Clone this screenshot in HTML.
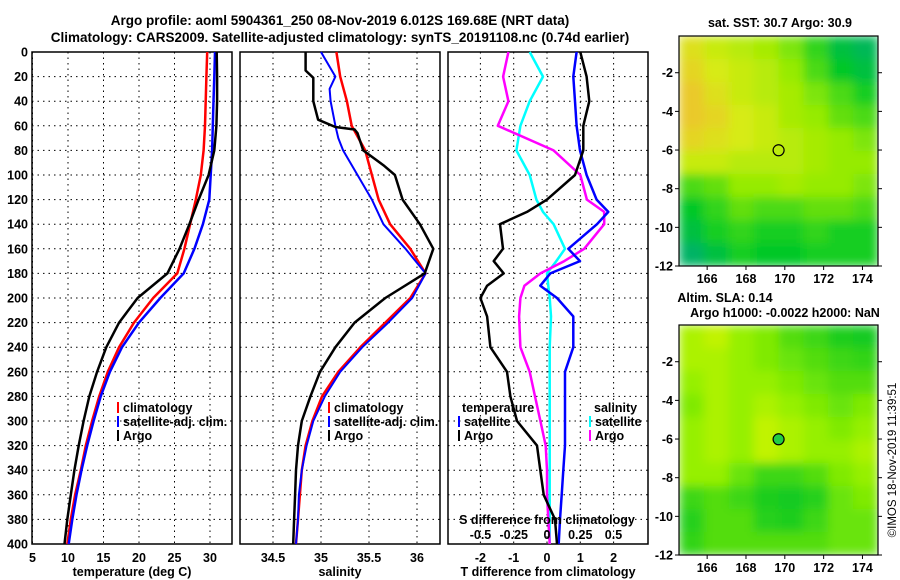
<!DOCTYPE html>
<html><head><meta charset="utf-8"><title>Argo profile</title>
<style>
html,body{margin:0;padding:0;background:#fff;}
svg{display:block;font-family:"Liberation Sans",sans-serif;font-weight:bold;}
</style></head>
<body>
<svg id="fig" width="900" height="580" viewBox="0 0 900 580" xmlns="http://www.w3.org/2000/svg">
<defs>
<filter id="soft" x="0" y="0" width="1" height="1"><feGaussianBlur stdDeviation="5" edgeMode="duplicate"/></filter>
<filter id="soft2" x="0" y="0" width="1" height="1"><feGaussianBlur stdDeviation="2" edgeMode="duplicate"/></filter>
<clipPath id="c1"><rect x="679" y="36" width="199" height="230"/></clipPath>
<clipPath id="c2"><rect x="679" y="325" width="199" height="230"/></clipPath>
</defs>
<text x="340" y="25" font-size="13.5" text-anchor="middle">Argo profile: aoml 5904361_250 08-Nov-2019 6.012S 169.68E (NRT data)</text>
<text x="340" y="42" font-size="13.5" text-anchor="middle">Climatology: CARS2009. Satellite-adjusted climatology: synTS_20191108.nc (0.74d earlier)</text>
<text transform="translate(896,460) rotate(-90)" font-size="11.5" font-weight="normal" text-anchor="middle">©IMOS 18-Nov-2019 11:39:51</text>
</svg>
<script>
// ---------- data ----------
const pressureTicks = [0,20,40,60,80,100,120,140,160,180,200,220,240,260,280,300,320,340,360,380,400];
const tempTicks = [5,10,15,20,25,30];
const salTicks = [34.5,35,35.5,36];
const tdiffTicks = [-2,-1,0,1,2];
const sdiffTicks = [-0.5,-0.25,0,0.25,0.5];
const sdiffTickLabels = ["-0.5","-0.25","0","0.25","0.5"];

const pT = [0,20,40,60,80,100,120,140,160,180,200,220,240,260,280,300,320,340,360,380,400];
const tempClim = [29.6,29.5,29.4,29.3,29.1,28.7,28.0,27.2,26.4,25.4,22.0,19.3,17.2,15.6,14.4,13.4,12.5,11.8,11.0,10.4,9.9];
const tempSat  = [30.7,30.6,30.5,30.4,30.3,30.1,29.9,29.0,27.8,26.3,23.0,20.0,17.6,15.9,14.6,13.6,12.7,11.9,11.2,10.6,10.1];
const tempArgo = [30.95,31.0,31.0,30.9,30.6,29.8,28.4,27.1,25.7,24.0,19.8,17.2,15.4,14.1,13.0,12.2,11.5,10.9,10.4,9.9,9.5];

const pSalArgo = [0,15,21,40,55,61,63,66,80,92,100,120,140,160,180,200,220,240,260,280,300,320,340,360,380,400];
const salArgo = [34.84,34.84,34.92,34.92,34.97,35.15,35.35,35.38,35.44,35.65,35.77,35.85,36.03,36.17,36.08,35.67,35.35,35.15,34.99,34.89,34.80,34.76,34.74,34.73,34.72,34.71];
const salClim = [35.16,35.2,35.27,35.32,35.46,35.53,35.6,35.72,35.93,36.09,35.93,35.67,35.41,35.18,35.01,34.91,34.84,34.80,34.78,34.76,34.74];
const pSalSat = [0,20,30,40,60,70,80,100,120,140,160,180,200,220,240,260,280,300,320,340,360,380,400];
const salSat = [35.0,35.15,35.09,35.1,35.15,35.18,35.23,35.38,35.53,35.65,35.88,36.09,35.95,35.7,35.43,35.2,35.04,34.92,34.85,34.8,34.77,34.76,34.74];

const pDiff = [0,20,40,60,80,100,120,130,140,160,170,180,190,200,215,240,260,280,300,320,340,360,380,400];
const tdiffSat  = [0.89,0.79,0.84,0.89,0.99,1.19,1.49,1.84,1.5,0.64,0.99,0.1,-0.2,0.3,0.79,0.79,0.54,0.54,0.54,0.54,0.49,0.44,0.39,0.35];
const tdiffArgo = [1.0,1.19,1.27,1.09,1.09,0.84,0.0,-0.6,-1.41,-1.32,-1.6,-1.3,-1.8,-2.0,-1.8,-1.7,-1.2,-1.1,-0.9,-0.3,-0.2,-0.1,0.24,0.3];
const sdiffSat  = [-0.13,-0.03,-0.13,-0.2,-0.23,-0.13,-0.08,-0.03,0.05,0.135,0.07,0.0,0.01,0.02,0.03,0.02,0.02,0.02,0.02,0.02,0.02,0.02,0.02,0.02];
const sdiffArgo = [-0.29,-0.33,-0.29,-0.37,0.05,0.25,0.3,0.43,0.43,0.28,0.13,-0.05,-0.17,-0.2,-0.21,-0.2,-0.13,-0.09,-0.05,-0.01,0.0,0.0,0.01,0.02];

const lonTicks = [166,168,170,172,174];
const latTicks = [-2,-4,-6,-8,-10,-12];
const argoLon = 169.68, argoLat = -6.012;
// 0 = green, 1 = warm yellow/orange
const sstGrid = [
 [.7,.6,.55,.5,.4,.25,.1,.05],
 [.75,.65,.6,.55,.45,.3,.15,.1],
 [.8,.7,.6,.55,.5,.4,.3,.2],
 [.8,.75,.65,.6,.5,.45,.35,.3],
 [.75,.7,.65,.6,.55,.5,.45,.4],
 [.6,.6,.55,.55,.55,.5,.45,.45],
 [.3,.35,.45,.45,.5,.45,.45,.4],
 [.15,.25,.35,.3,.3,.35,.35,.3],
 [.1,.2,.25,.2,.2,.25,.2,.2],
 [.02,.1,.2,.15,.15,.2,.2,.2]];
const slaGrid = [
 [.55,.6,.5,.45,.35,.3,.15,.1],
 [.55,.55,.5,.45,.4,.35,.3,.25],
 [.5,.55,.5,.5,.45,.4,.35,.35],
 [.45,.55,.5,.55,.5,.45,.4,.45],
 [.5,.55,.5,.6,.55,.5,.45,.5],
 [.5,.55,.5,.6,.55,.5,.5,.55],
 [.5,.5,.4,.3,.3,.35,.45,.5],
 [.3,.35,.3,.15,.1,.2,.4,.45],
 [.2,.35,.35,.2,.15,.3,.4,.4],
 [.25,.35,.35,.35,.35,.35,.4,.4]];

// ---------- drawing ----------
const NS = "http://www.w3.org/2000/svg";
const svg = document.getElementById("fig");
function mk(tag, attrs, parent){
  const e = document.createElementNS(NS, tag);
  for (const k in attrs) e.setAttribute(k, attrs[k]);
  (parent||svg).appendChild(e);
  return e;
}
const Y0 = 52, Y1 = 544;
const yP = p => Y0 + (p/400)*(Y1-Y0);

function panel(name, x0, x1, xs, xticks, xlabels, xtitle){
  const g = mk("g", {});
  
  
  xticks.forEach(t => {
    const gl = mk("line", {x1:xs(t), x2:xs(t), y1:Y0, y2:Y1, stroke:"#000", "stroke-width":1, "stroke-dasharray":"1.5,4"}, g);
    
    
  });
  pressureTicks.forEach(p => {
    const gl = mk("line", {x1:x0, x2:x1, y1:yP(p), y2:yP(p), stroke:"#000", "stroke-width":1, "stroke-dasharray":"1.5,4"}, g);
    
    
  });
  const fr = mk("rect", {x:x0, y:Y0, width:x1-x0, height:Y1-Y0, fill:"none", stroke:"#000", "stroke-width":1.5}, g);
  
  
  xticks.forEach((t,i) => {
    const tl = mk("text", {x:xs(t), y:562, "font-size":12.5, "text-anchor":"middle"}, g);
    tl.textContent = xlabels[i];
    
    
  });
  const xt = mk("text", {x:(x0+x1)/2, y:576, "font-size":12.5, "text-anchor":"middle"}, g);
  xt.textContent = xtitle;
  
  
  return g;
}
function series(g, name, xs, vals, ps, color, w){
  const d = vals.map((v,i)=> (i?"L":"M") + xs(v).toFixed(1) + "," + yP(ps[i]).toFixed(1)).join(" ");
  const l = mk("path", {d:d, fill:"none", stroke:color, "stroke-width":w, "stroke-linejoin":"round"}, g);
  
  
}
function legend(g, x, y, color, label, name){
  const m = mk("line", {x1:x, x2:x, y1:y-10, y2:y+1, stroke:color, "stroke-width":2}, g);
  
  
  const t = mk("text", {x:x+5, y:y, "font-size":12.5}, g);
  t.textContent = label;
  
  
}

// Panel 1: temperature
const xsT = t => 32.5 + (t-5)*7.1;
const g1 = panel("temperature-panel", 32, 232, xsT, tempTicks, tempTicks.map(String), "temperature (deg C)");
pressureTicks.forEach(p => {
  const t = mk("text", {x:28, y:yP(p)+4.5, "font-size":12.5, "text-anchor":"end"}, g1);
  t.textContent = p;
  
  
});
series(g1, "temp-climatology-line", xsT, tempClim, pT, "#ff0000", 2.5);
series(g1, "temp-satellite-line", xsT, tempSat, pT, "#0000ff", 2.5);
series(g1, "temp-argo-line", xsT, tempArgo, pT, "#000000", 2.5);
legend(g1, 118, 412, "#ff0000", "climatology", "legend-climatology");
legend(g1, 118, 426, "#0000ff", "satellite-adj. clim.", "legend-satellite-adj");
legend(g1, 118, 440, "#000000", "Argo", "legend-argo");

// Panel 2: salinity
const xsS = s => 273 + (s-34.5)*96;
const g2 = panel("salinity-panel", 240, 440, xsS, salTicks, ["34.5","35","35.5","36"], "salinity");
series(g2, "sal-climatology-line", xsS, salClim, pT, "#ff0000", 2.5);
series(g2, "sal-satellite-line", xsS, salSat, pSalSat, "#0000ff", 2);
series(g2, "sal-argo-line", xsS, salArgo, pSalArgo, "#000000", 2.5);
legend(g2, 329, 412, "#ff0000", "climatology", "legend-climatology");
legend(g2, 329, 426, "#0000ff", "satellite-adj. clim.", "legend-satellite-adj");
legend(g2, 329, 440, "#000000", "Argo", "legend-argo");

// Panel 3: differences
const xsTD = d => 547 + d*33.3;
const xsSD = d => 547 + d*133;
const g3 = panel("difference-panel", 448, 648, xsTD, tdiffTicks, tdiffTicks.map(String), "T difference from climatology");
series(g3, "sdiff-satellite-line", xsSD, sdiffSat, pDiff, "#00ffff", 2.5);
series(g3, "sdiff-argo-line", xsSD, sdiffArgo, pDiff, "#ff00ff", 2.5);
series(g3, "tdiff-satellite-line", xsTD, tdiffSat, pDiff, "#0000ff", 2.5);
series(g3, "tdiff-argo-line", xsTD, tdiffArgo, pDiff, "#000000", 2.5);
{
  const t1 = mk("text", {x:462, y:412, "font-size":12.5}, g3); t1.textContent = "temperature";
  
  
  const t2 = mk("text", {x:594, y:412, "font-size":12.5}, g3); t2.textContent = "salinity";
  
  
}
legend(g3, 459, 426, "#0000ff", "satellite", "legend-t-satellite");
legend(g3, 459, 440, "#000000", "Argo", "legend-t-argo");
legend(g3, 590, 426, "#00ffff", "satellite", "legend-s-satellite");
legend(g3, 590, 440, "#ff00ff", "Argo", "legend-s-argo");
{
  const st = mk("text", {x:547, y:524, "font-size":12.5, "text-anchor":"middle"}, g3);
  st.textContent = "S difference from climatology";
  
  
  sdiffTicks.forEach((s,i) => {
    const t = mk("text", {x:xsSD(s), y:539, "font-size":12.5, "text-anchor":"middle"}, g3);
    t.textContent = sdiffTickLabels[i];
    
    
  });
}

// Maps
const MX0 = 679, MX1 = 878, LON0 = 164.55, LON1 = 174.8, LAT0 = -0.1, LAT1 = -12.0;
const mxs = lon => MX0 + (lon-LON0)/(LON1-LON0)*(MX1-MX0);
function lerp(a,b,t){return a+(b-a)*t;}
function colSST(v){
  const stops=[[0,[0,176,110]],[0.15,[0,200,40]],[0.45,[150,235,0]],[0.65,[215,235,20]],[0.85,[240,190,50]],[1,[245,150,40]]];
  for(let i=1;i<stops.length;i++){ if(v<=stops[i][0]){const a=stops[i-1],b=stops[i];const t=(v-a[0])/(b[0]-a[0]);
    return "rgb("+a[1].map((c,j)=>Math.round(lerp(c,b[1][j],t))).join(",")+")";}}
  return "rgb(245,150,40)";
}
function colSLA(v){
  const stops=[[0,[0,195,40]],[0.3,[60,215,20]],[0.5,[150,240,0]],[0.65,[215,245,0]],[1,[235,240,0]]];
  for(let i=1;i<stops.length;i++){ if(v<=stops[i][0]){const a=stops[i-1],b=stops[i];const t=(v-a[0])/(b[0]-a[0]);
    return "rgb("+a[1].map((c,j)=>Math.round(lerp(c,b[1][j],t))).join(",")+")";}}
  return "rgb(235,240,0)";
}
function map(name, my0, my1, grid, colf, clip, titles, filled){
  const mys = lat => my0 + (lat-LAT0)/(LAT1-LAT0)*(my1-my0);
  const g = mk("g", {});
  
  
  const hg = mk("g", {"clip-path":"url(#"+clip+")"}, g);
  const inner = mk("g", {filter:"url(#soft)"}, hg);
  const nr = grid.length, nc = grid[0].length;
  const cw = (MX1-MX0)/nc, ch = (my1-my0)/nr;
  grid.forEach((row,r) => row.forEach((v,c) => {
    const cell = mk("rect", {x:MX0+c*cw, y:my0+r*ch, width:cw+0.5, height:ch+0.5, fill:colf(v)}, inner);
    
    
  }));
  const fr = mk("rect", {x:MX0, y:my0, width:MX1-MX0, height:my1-my0, fill:"none", stroke:"#000", "stroke-width":1.2}, g);
  
  
  latTicks.forEach(l => {
    const tk = mk("line", {x1:MX0-4, x2:MX0, y1:mys(l), y2:mys(l), stroke:"#000"}, g);
    
    
    const tk2 = mk("line", {x1:MX1, x2:MX1+4, y1:mys(l), y2:mys(l), stroke:"#000"}, g);
    
    
    const t = mk("text", {x:673, y:mys(l)+4.5, "font-size":12.5, "text-anchor":"end"}, g);
    t.textContent = l;
    
    
  });
  lonTicks.forEach(l => {
    const tk = mk("line", {x1:mxs(l), x2:mxs(l), y1:my1, y2:my1+4, stroke:"#000"}, g);
    
    
    const t = mk("text", {x:mxs(l), y:my1+17, "font-size":12.5, "text-anchor":"middle"}, g);
    t.textContent = l;
    
    
  });
  titles.forEach((tt,i) => {
    const t = mk("text", {x:tt[1], y:tt[2], "font-size":12.5, "text-anchor":"middle"}, g);
    t.textContent = tt[0];
    
    
  });
  const mkr = mk("circle", {cx:mxs(argoLon), cy:mys(argoLat), r:5.5, fill:filled?"#22cc44":"none", stroke:"#000", "stroke-width":1.2}, g);
  
  
}
map("sst-map", 36, 266, sstGrid, colSST, "c1", [["sat. SST: 30.7 Argo: 30.9", 780, 27]], false);
map("sla-map", 325, 555, slaGrid, colSLA, "c2", [["Altim. SLA: 0.14", 725, 302],["Argo h1000: -0.0022 h2000: NaN", 785, 317]], true);
</script>
</body></html>
